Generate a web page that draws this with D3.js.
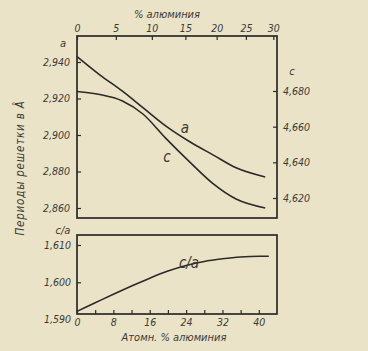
<!DOCTYPE html>
<html>
<head>
<meta charset="utf-8">
<title>Периоды решетки</title>
<script src="https://cdn.jsdelivr.net/npm/d3@7"></script>
<style>
  body { margin: 0; background: #ebe3c8; }
  svg text { font-family: "Liberation Sans Narrow", "DejaVu Sans Condensed", sans-serif; font-style: italic; fill: #3b3a36; }
</style>
</head>
<body>
<script>
// --- data ---
// atomic % Al for the upper curves
var atPct = [0, 5, 10, 14.5, 19.5, 25, 30, 35, 41.4];
var aVals = [2.943, 2.933, 2.924, 2.915, 2.905, 2.896, 2.889, 2.882, 2.877];
var cVals = [4.6797, 4.6780, 4.6744, 4.6671, 4.6536, 4.6397, 4.6279, 4.6194, 4.6144];

// c/a ratio, lower panel
var caAt = [0, 4, 8, 12, 16, 20, 24, 28, 32, 36, 40, 42.2];
var caVals = [1.5922, 1.5945, 1.5968, 1.5990, 1.6011, 1.6030, 1.6045, 1.6056, 1.6063, 1.6068, 1.6070, 1.6070];

// tick labels
var wtTicks = [0, 5, 10, 15, 20, 25, 30];          // weight % (top axis)
var atTicks = [0, 4, 8, 12, 16, 20, 24, 28, 32, 36, 40];
var aTicks = [2.86, 2.88, 2.90, 2.92, 2.94];
var cTicks = [4.62, 4.64, 4.66, 4.68];
var caTicks = [1.59, 1.60, 1.61];

var W = 368, H = 351;
var ink = "#2b2a27";

// weight % -> atomic % for Ti-Al
function wtToAt(w) {
    var al = w / 26.98, ti = (100 - w) / 47.87;
    return al / (al + ti) * 100;
}
function comma(f) {
    return function (d) { return d3.format(f)(d).replace(".", ","); };
}

var svg = d3.select("body").append("svg")
    .attr("width", W).attr("height", H);

var x = d3.scaleLinear().domain([0, 44]).range([77, 277]);
var yA = d3.scaleLinear().domain([2.86, 2.94]).range([208, 62]);
var yC = d3.scaleLinear().domain([4.62, 4.68]).range([198, 91]);
var yCA = d3.scaleLinear().domain([1.59, 1.61]).range([319.6, 245]);

var top1 = 36, bot1 = 218, top2 = 235, bot2 = 314;

//frames
svg.append("rect").attr("x", 77).attr("y", top1).attr("width", 200).attr("height", bot1 - top1)
    .attr("fill", "none").attr("stroke", ink).attr("stroke-width", 1.7);
svg.append("rect").attr("x", 77).attr("y", top2).attr("width", 200).attr("height", bot2 - top2)
    .attr("fill", "none").attr("stroke", ink).attr("stroke-width", 1.7);

function styleAxis(g, fs) {
    g.select(".domain").remove();
    g.selectAll("line").attr("stroke", ink).attr("stroke-width", 1.2);
    g.selectAll("text").attr("font-size", fs || 10.5).attr("fill", "#3b3a36");
}

// top axis: weight %
var topAx = d3.axisTop(x).tickValues(wtTicks.map(wtToAt))
    .tickFormat(function (d, i) { return wtTicks[i]; })
    .tickSizeInner(-4).tickSizeOuter(0).tickPadding(4);
svg.append("g").attr("transform", "translate(0," + top1 + ")").call(topAx).call(styleAxis);

// left a axis
var aAx = d3.axisLeft(yA).tickValues(aTicks).tickFormat(comma(".3f"))
    .tickSizeInner(-4).tickSizeOuter(0).tickPadding(7);
svg.append("g").attr("transform", "translate(77,0)").call(aAx).call(styleAxis);

// right c axis
var cAx = d3.axisRight(yC).tickValues(cTicks).tickFormat(comma(".3f"))
    .tickSizeInner(-4).tickSizeOuter(0).tickPadding(6);
svg.append("g").attr("transform", "translate(277,0)").call(cAx).call(styleAxis);

// lower panel axes
var caAx = d3.axisLeft(yCA).tickValues(caTicks).tickFormat(comma(".3f"))
    .tickSizeInner(-4).tickSizeOuter(0).tickPadding(6);
var gca = svg.append("g").attr("transform", "translate(77,0)").call(caAx).call(styleAxis);
gca.selectAll(".tick").filter(function (d) { return yCA(d) > bot2; }).select("line").remove();

var botAx = d3.axisBottom(x).tickValues(atTicks)
    .tickFormat(function (d) { return d % 8 === 0 ? d : ""; })
    .tickSizeInner(-4).tickSizeOuter(0).tickPadding(5);
svg.append("g").attr("transform", "translate(0," + bot2 + ")").call(botAx).call(styleAxis);

// curves
var lineA = d3.line().x(function (d, i) { return x(atPct[i]); }).y(function (d) { return yA(d); })
    .curve(d3.curveMonotoneX);
var lineC = d3.line().x(function (d, i) { return x(atPct[i]); }).y(function (d) { return yC(d); })
    .curve(d3.curveMonotoneX);
var lineCA = d3.line().x(function (d, i) { return x(caAt[i]); }).y(function (d) { return yCA(d); })
    .curve(d3.curveMonotoneX);

svg.append("path").datum(aVals).attr("d", lineA)
    .attr("fill", "none").attr("stroke", ink).attr("stroke-width", 1.6);
svg.append("path").datum(cVals).attr("d", lineC)
    .attr("fill", "none").attr("stroke", ink).attr("stroke-width", 1.6);
svg.append("path").datum(caVals).attr("d", lineCA)
    .attr("fill", "none").attr("stroke", ink).attr("stroke-width", 1.6);

// labels
function label(tx, ty, s, fs, anchor) {
    return svg.append("text").attr("x", tx).attr("y", ty).attr("font-size", fs)
        .attr("text-anchor", anchor || "middle").text(s);
}
label(167, 18, "% алюминия", 11);
label(63, 47, "a", 11);
label(292, 75, "c", 11);
label(185, 133, "a", 15);
label(167, 162, "c", 15);
label(63, 234, "c/a", 11);
label(189, 268, "c/a", 15);
label(174, 341, "Атомн. % алюминия", 11);

svg.append("text").attr("transform", "translate(24,168) rotate(-90)")
    .attr("font-size", 11.5).attr("text-anchor", "middle").attr("letter-spacing", 0.8)
    .text("Периоды решетки в Å");
</script>
</body>
</html>
